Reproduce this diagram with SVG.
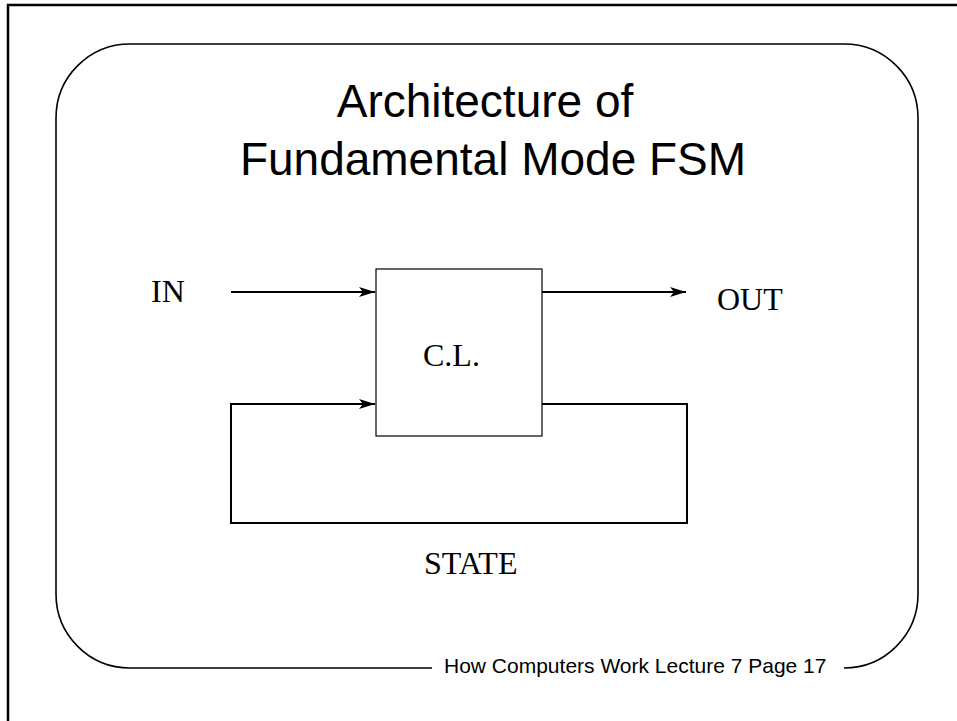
<svg xmlns="http://www.w3.org/2000/svg" width="957" height="721" viewBox="0 0 957 721">
  <style>
    .sans { font-family: "Liberation Sans", Arial, sans-serif; fill: #000; }
    .serif { font-family: "Liberation Serif", "Times New Roman", serif; fill: #000; font-size: 32px; }
    .wire { fill: none; stroke: #000; stroke-width: 2; }
    .frame { fill: none; stroke: #000; }
  </style>
  <defs>
    <marker id="arrow" viewBox="0 0 16 12" refX="16" refY="6" markerWidth="16" markerHeight="12" markerUnits="userSpaceOnUse" orient="auto">
      <path d="M0,1 L16,6 L0,11 L4,6 Z" fill="#000"/>
    </marker>
  </defs>

  <rect width="957" height="721" fill="#fff"/>

  <!-- page frame (top and left edges) -->
  <path class="frame" stroke-width="2.5" d="M8,721 L8,5 L957,5"/>

  <!-- rounded slide border, open at the bottom for the footer -->
  <path class="frame" stroke-width="1.6" d="M432,668 L130,668 A74,74 0 0 1 56,594 L56,118 A74,74 0 0 1 130,44 L844,44 A74,74 0 0 1 918,118 L918,594 A74,74 0 0 1 844,668"/>

  <!-- title -->
  <g id="title">
    <text class="sans" font-size="46" x="485" y="117" text-anchor="middle">Architecture of</text>
    <text class="sans" font-size="46" x="493" y="175" text-anchor="middle">Fundamental Mode FSM</text>
  </g>

  <!-- combinational logic block -->
  <g id="cl">
    <rect x="376" y="269" width="166" height="167" fill="#fff" stroke="#000" stroke-width="1.2"/>
    <text class="serif" x="423" y="366">C.L.</text>
  </g>

  <g id="in">
    <text class="serif" x="151" y="302">IN</text>
  </g>

  <g id="out">
    <text class="serif" x="717" y="310">OUT</text>
  </g>

  <g id="state">
    <text class="serif" x="424" y="574">STATE</text>
  </g>

  <!-- connectors -->
  <g id="connectors">
    <line class="wire" x1="231" y1="292" x2="375" y2="292" marker-end="url(#arrow)"/>
    <line class="wire" x1="542" y1="292" x2="686" y2="292" marker-end="url(#arrow)"/>
    <path class="wire" d="M542,404 L687,404 L687,523 L231,523 L231,404 L375,404" marker-end="url(#arrow)"/>
  </g>

  <!-- footer -->
  <text class="sans" font-size="21" x="444" y="673">How Computers Work Lecture 7 Page 17</text>
</svg>
